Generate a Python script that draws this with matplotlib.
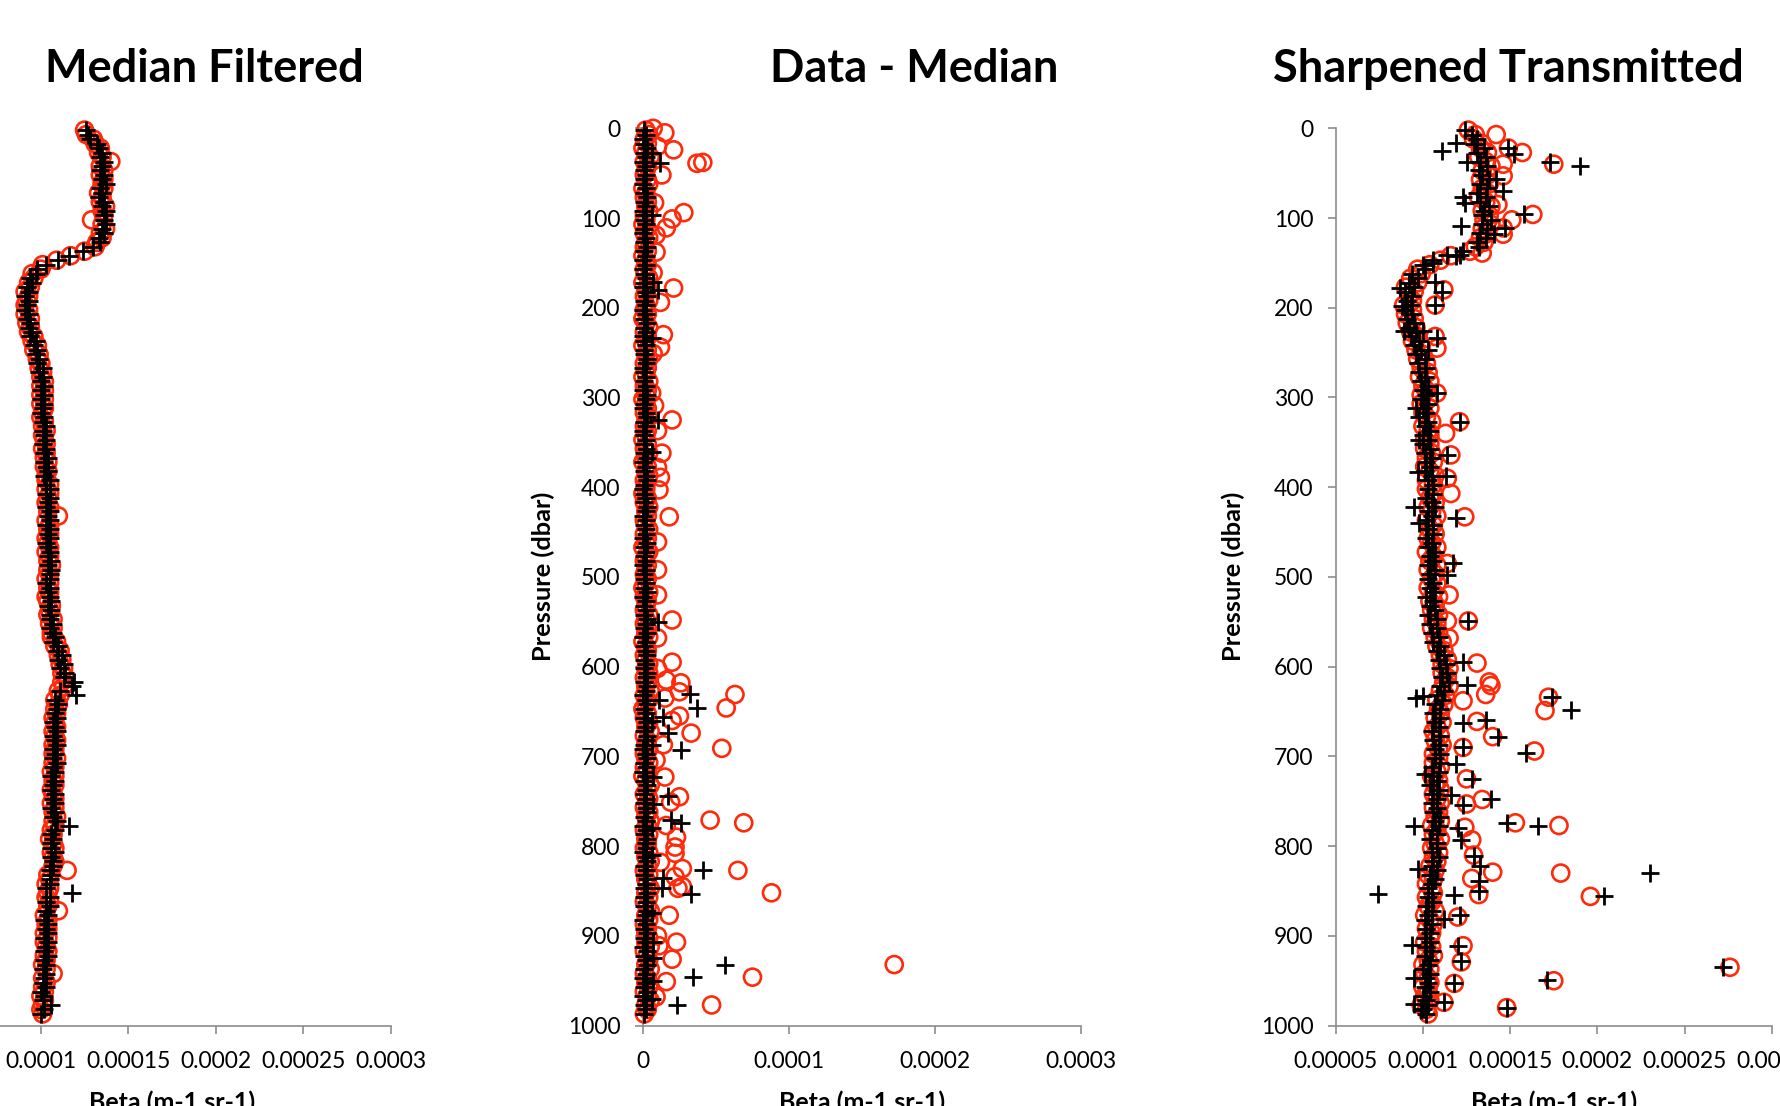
import numpy as np
import matplotlib
matplotlib.use("Agg")
import matplotlib.pyplot as plt
from matplotlib.ticker import FixedLocator, FixedFormatter

plt.rcParams['font.family'] = ['Lato', 'DejaVu Sans']

# ---------------- DATA (beta values in units of 1e-6 m-1 sr-1) ----------------
pressure = list(range(2, 990, 5))   # sampling levels (dbar)

# Panel 1: Median Filtered
mf_red = [
    125,126,130,131,134,133,135,140,134,136,
    134,136,135,136,133,135,134,137,135,136,
    129,135,137,134,135,132,131,125,117,109,
    101,100,95,96,93,94,91,93,92,91,
    93,91,94,92,94,93,96,95,98,96,
    99,98,100,99,101,100,102,100,102,100,
    102,100,102,101,100,102,101,103,101,102,
    103,101,103,102,104,102,104,103,103,105,
    103,105,104,103,105,104,110,103,105,104,
    105,103,104,105,103,105,104,106,104,105,
    103,105,104,105,103,104,106,105,104,107,
    105,107,106,106,109,108,111,110,112,111,
    113,112,114,112,113,110,111,108,110,108,
    109,107,108,109,107,108,109,107,108,107,
    109,107,108,106,108,107,108,106,107,108,
    106,108,107,109,107,108,106,107,105,107,
    108,106,107,108,107,115,104,105,103,105,
    104,103,105,104,110,102,104,103,104,102,
    104,102,103,104,102,103,101,103,107,101,
    103,101,102,100,102,101,100,101]
mf_black = [
    126,127,128,132,133,135,134,136,135,134,
    136,135,137,134,135,133,136,135,137,136,
    136,137,135,136,133,134,130,124,116,110,
    103,98,97,94,95,92,93,91,93,92,
    91,93,92,94,93,95,94,97,96,98,
    97,99,98,101,99,101,100,102,100,102,
    100,102,101,100,102,101,103,101,102,103,
    101,103,102,104,102,103,104,102,105,103,
    105,103,105,104,103,105,104,105,103,105,
    104,105,103,104,105,104,106,104,106,105,
    105,103,105,104,105,106,104,106,105,105,
    107,105,107,108,107,110,109,112,110,113,
    111,114,113,119,118,111,120,108,110,109,
    108,109,107,108,109,107,108,109,107,108,
    107,109,107,108,106,108,107,106,108,107,
    108,106,108,107,109,116,108,106,107,106,
    106,108,106,107,107,105,106,105,105,103,
    118,105,103,105,103,104,102,104,103,104,
    102,104,103,102,104,102,103,101,103,102,
    101,103,100,102,101,106,102,100]

# Panel 2: Data - Median
dm_red = [
    2,4,1,3,0,2,5,1,3,2,
    1,3,4,0,2,1,3,2,4,1,
    2,0,3,1,4,2,1,3,0,2,
    3,1,2,4,0,3,2,1,4,2,
    1,3,0,2,4,1,3,2,0,3,
    2,4,1,3,2,0,4,1,3,2,
    0,2,3,1,4,2,1,3,2,0,
    3,1,4,2,0,3,2,4,1,2,
    2,0,3,1,4,2,3,1,2,4,
    1,3,2,0,4,2,1,3,2,1,
    3,2,0,4,1,3,2,1,4,2,
    1,3,2,4,0,2,3,1,2,4,
    2,4,1,3,2,5,1,3,2,0,
    3,1,4,2,5,1,3,2,4,1,
    2,4,1,3,0,2,5,3,1,4,
    3,1,4,2,5,3,1,4,2,3,
    1,4,2,5,3,1,4,2,3,5,
    2,4,1,3,5,2,4,1,3,2,
    4,2,5,1,3,4,2,5,1,3,
    2,4,1,3,5,2,3,1]
dm_black = [
    1,2,0,1,3,1,2,0,2,1,
    2,1,0,2,1,3,1,2,0,1,
    1,2,1,0,2,1,3,1,2,0,
    2,0,1,2,1,0,2,3,1,2,
    0,2,1,3,1,2,0,1,2,1,
    1,3,2,0,1,2,1,2,0,3,
    2,1,0,2,3,1,2,0,1,2,
    1,2,1,3,0,2,1,2,3,1,
    0,1,2,1,3,2,0,2,1,2,
    2,0,3,1,2,1,2,0,2,1,
    1,2,1,3,0,2,1,2,1,3,
    2,1,3,0,2,1,2,3,1,2,
    1,3,2,1,3,2,0,2,3,1,
    2,1,3,2,1,3,2,1,0,2,
    3,1,2,0,2,1,3,2,1,2,
    1,2,3,1,2,0,2,1,3,2,
    2,0,2,3,1,2,1,3,2,1,
    3,1,2,1,3,2,0,2,1,3,
    1,2,0,3,1,2,3,1,2,0,
    2,1,3,0,2,1,2,1]
dm_red_spike_p = [0,5,20,24,38,39,52,83,94,101,111,119,138,161,178,194,230,244,251,295,
                  309,325,337,362,378,389,403,433,461,492,520,548,568,595,602,
                  615,618,628,631,635,646,655,660,674,687,691,704,723,745,751,
                  771,774,777,790,801,808,818,825,827,834,845,847,852,877,900,
                  907,911,926,932,946,951,968,977]
dm_red_spike_v = [7,15,10,21,41,37,13,8,28,20,16,9,9,7,21,12,14,12,7,6,
                  8,20,10,13,10,12,11,18,10,10,10,20,10,20,10,
                  16,26,25,63,15,57,25,20,33,14,54,9,15,25,19,
                  46,69,16,23,22,22,12,27,65,22,27,24,88,18,10,
                  23,11,20,172,75,16,9,47]
dm_black_spike_p = [28,39,97,171,180,234,325,361,550,630,637,646,656,660,674,687,693,723,
                    744,753,771,774,780,810,827,836,847,853,875,907,925,933,946,950,970,977]
dm_black_spike_v = [6,12,6,7,10,6,10,6,10,32,11,37,14,6,17,6,26,7,
                    17,7,19,26,6,6,41,14,13,33,6,7,7,56,34,7,6,23]

# Panel 3: Sharpened Transmitted
sh_red = [
    126,130,129,134,133,137,132,136,139,134,
    137,133,138,134,137,132,136,139,134,138,
    135,139,134,137,133,135,130,127,116,110,
    104,97,99,93,97,90,95,92,94,89,
    94,90,95,91,96,93,97,94,99,96,
    100,97,102,99,103,98,104,100,102,99,
    103,99,104,100,102,105,100,103,104,101,
    104,101,105,102,106,101,104,107,102,106,
    102,106,104,107,103,105,108,102,106,104,
    107,103,105,108,102,106,104,108,103,107,
    105,108,103,106,109,104,107,105,109,106,
    108,105,109,107,111,108,112,110,114,111,
    115,111,114,112,115,110,113,108,112,109,
    110,107,111,108,106,110,107,111,109,106,
    109,106,110,108,105,109,107,110,106,108,
    110,106,109,107,110,105,108,106,110,107,
    105,109,106,108,104,107,103,106,102,105,
    106,102,105,103,107,101,104,106,102,105,
    104,101,105,102,106,103,100,104,101,103,
    104,100,103,101,104,99,102,103]
sh_black = [
    124,128,131,129,135,131,136,133,137,132,
    134,138,133,137,131,136,133,138,135,134,
    139,134,137,133,136,131,132,123,119,106,
    100,101,94,97,92,95,90,94,91,93,
    90,94,91,95,92,96,93,98,95,99,
    96,101,97,102,98,101,99,103,100,102,
    99,103,100,102,98,103,101,104,100,103,
    100,104,101,105,102,104,101,105,103,106,
    103,106,102,105,107,103,105,102,106,103,
    106,102,105,103,107,104,106,103,107,104,
    103,106,104,107,102,106,104,107,103,108,
    104,108,105,109,106,110,108,112,109,113,
    110,114,111,115,110,112,108,111,107,110,
    106,110,107,109,105,110,106,109,107,110,
    107,110,105,109,106,108,104,109,106,108,
    105,108,106,110,107,109,105,108,104,108,
    108,105,109,106,105,108,104,107,105,103,
    105,103,106,102,105,103,101,105,102,104,
    101,104,102,105,101,104,103,100,104,102,
    103,101,104,100,102,103,100,102]
sh_red_spike_p = [7,22,27,40,40,53,85,96,102,111,118,139,180,197,232,245,295,327,340,364,390,407,
                  433,485,520,549,549,568,596,617,
                  621,631,634,649,638,661,678,690,694,725,748,753,774,777,779,793,810,829,830,
                  836,854,856,879,911,929,935,950,953,980,974]
sh_red_spike_v = [142,149,157,146,175,146,143,163,151,146,146,134,112,107,107,108,108,121,113,116,114,116,
                  124,114,115,126,114,115,131,138,
                  139,136,172,170,123,131,140,123,164,125,134,125,153,178,124,128,129,140,179,
                  128,132,196,120,123,122,276,175,118,148,112]
sh_black_spike_p = [16,25,22,29,38,38,42,57,70,77,83,96,109,111,118,141,141,150,171,178,182,197,198,
                    226,226,234,247,295,312,327,347,364,383,388,
                    422,434,440,485,498,549,595,
                    620,633,635,634,648,659,663,678,690,696,708,720,725,743,748,754,774,778,777,
                    780,793,811,822,825,830,839,850,855,853,856,877,881,910,911,928,935,949,947,
                    953,980,976,974,983]
sh_black_spike_v = [119,111,149,152,125,173,190,142,146,123,124,158,122,147,141,121,114,106,107,87,111,107,88,
                    89,100,108,103,108,96,121,98,114,97,113,
                    95,119,98,117,114,126,123,
                    125,100,96,174,185,136,123,143,123,159,119,101,128,116,139,123,148,166,95,
                    120,122,129,133,97,230,132,132,118,74,204,121,112,94,120,122,272,171,95,
                    118,148,95,112,99]

# Axes ticks / labels
y_ticks = [0, 100, 200, 300, 400, 500, 600, 700, 800, 900, 1000]
y_labels = ['0', '100', '200', '300', '400', '500', '600', '700', '800', '900', '1000']
x_ticks_a = [0.00005, 0.0001, 0.00015, 0.0002, 0.00025, 0.0003]
x_labels_a = ['0.00005', '0.0001', '0.00015', '0.0002', '0.00025', '0.0003']
x_ticks_b = [0, 0.0001, 0.0002, 0.0003]
x_labels_b = ['0', '0.0001', '0.0002', '0.0003']
titles = ['Median Filtered', 'Data - Median', 'Sharpened Transmitted']
x_title = 'Beta (m-1 sr-1)'
y_title = 'Pressure (dbar)'

# ---------------- FIGURE ----------------
W, H = 1781, 1106
fig = plt.figure(figsize=(W / 100, H / 100), dpi=100)
TOP, BOT = 128.3, 1025.6

def rect(x0, x1):
    return [x0 / W, 1 - BOT / H, (x1 - x0) / W, (BOT - TOP) / H]

RED = '#FF2A0A'
GRAY = '#8C8C8C'
U = 1e-6

def scale(v):
    return np.asarray(v, dtype=float) * U

def style(ax, xt, xl, xlim):
    ax.set_xlim(*xlim)
    ax.set_ylim(1000, 0)
    for s in ('top', 'right'):
        ax.spines[s].set_visible(False)
    for s in ('left', 'bottom'):
        ax.spines[s].set_color(GRAY)
        ax.spines[s].set_linewidth(1.2)
    ax.xaxis.set_major_locator(FixedLocator(xt))
    ax.xaxis.set_major_formatter(FixedFormatter(xl))
    ax.yaxis.set_major_locator(FixedLocator(y_ticks))
    ax.yaxis.set_major_formatter(FixedFormatter(y_labels))
    ax.tick_params(axis='both', direction='out', length=6, width=1.2, color=GRAY,
                   labelsize=16.5, labelcolor='black')
    ax.tick_params(axis='x', pad=12)
    ax.tick_params(axis='y', pad=10)
    ax.set_facecolor('none')

def plot_series(ax, red_base, red_sp_p, red_sp_v, blk_base, blk_sp_p, blk_sp_v):
    n = min(len(pressure), len(red_base))
    rp = list(pressure[:n]) + list(red_sp_p)
    rv = np.concatenate([scale(red_base[:n]), scale(red_sp_v)])
    ax.scatter(rv, rp, s=150, marker='o', facecolors='none', edgecolors=RED,
               linewidths=1.9, clip_on=False, zorder=3)
    n = min(len(pressure), len(blk_base))
    bp = list(pressure[:n]) + list(blk_sp_p)
    bv = np.concatenate([scale(blk_base[:n]), scale(blk_sp_v)])
    ax.scatter(bv, bp, s=170, marker='+', color='black', linewidths=2.0,
               clip_on=False, zorder=4)

# Panel 1
ax1 = fig.add_axes(rect(-46.6, 390.7))
style(ax1, x_ticks_a, x_labels_a, (0.00005, 0.0003))
plot_series(ax1, mf_red, [], [], mf_black, [], [])

# Panel 2
ax2 = fig.add_axes(rect(642.9, 1081.3))
style(ax2, x_ticks_b, x_labels_b, (0, 0.0003))
plot_series(ax2, dm_red, dm_red_spike_p, dm_red_spike_v, dm_black, dm_black_spike_p, dm_black_spike_v)

# Panel 3
ax3 = fig.add_axes(rect(1335.7, 1771.8))
style(ax3, x_ticks_a, x_labels_a, (0.00005, 0.0003))
plot_series(ax3, sh_red, sh_red_spike_p, sh_red_spike_v, sh_black, sh_black_spike_p, sh_black_spike_v)

# Titles
for cx, t in zip([204, 914, 1508], titles):
    fig.text(cx / W, 1 - 69 / H, t, ha='center', va='center', fontsize=32.5, fontweight='bold')

# Y-axis titles
for cx in [543, 1233]:
    fig.text(cx / W, 1 - 576 / H, y_title, rotation=90, ha='center', va='center',
             fontsize=18.3, fontweight='bold')

# X-axis titles (partly cut at the bottom edge)
for cx in [172, 862, 1554]:
    fig.text(cx / W, 1 - 1091 / H, x_title, ha='center', va='top',
             fontsize=18, fontweight='bold')

fig.savefig('out.png', dpi=100)
